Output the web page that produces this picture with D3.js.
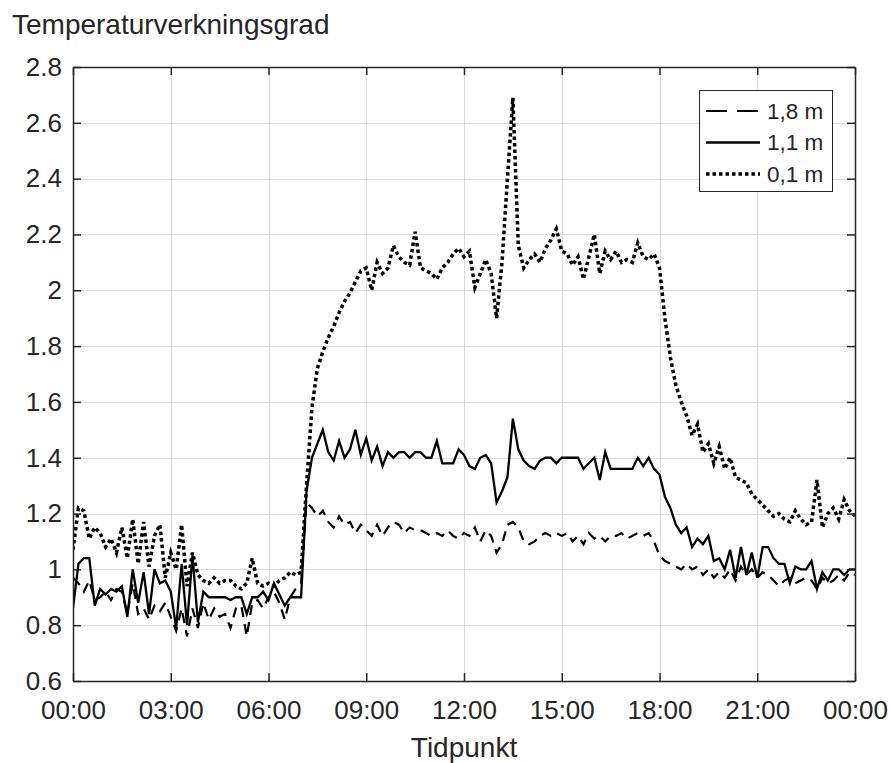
<!DOCTYPE html>
<html>
<head>
<meta charset="utf-8">
<script src="https://cdn.jsdelivr.net/npm/d3@7/dist/d3.min.js"></script>
<style>
  html, body { margin: 0; padding: 0; background: #fff; }
  svg { display: block; font-family: "Liberation Sans", Arial, Helvetica, sans-serif; }
</style>
</head>
<body>
<svg id="chart" width="891" height="763"></svg>
<script>
// Samples every 10 minutes from 00:00 to 24:00 (145 per series)
const stepMinutes = 10;

// Height 1,8 m
const h18 = [
  0.97, 0.95, 0.92, 0.96, 0.89, 0.90, 0.92, 0.89, 0.93, 0.92, 0.84, 0.95,
  0.84, 0.86, 0.82, 0.87, 0.85, 0.88, 0.83, 0.78, 0.86, 0.76, 0.86, 0.79,
  0.88, 0.82, 0.86, 0.83, 0.84, 0.79, 0.86, 0.87, 0.76, 0.88, 0.89, 0.86,
  0.90, 0.92, 0.88, 0.82, 0.90, 0.93, 0.95, 1.24, 1.22, 1.19, 1.21, 1.17,
  1.15, 1.19, 1.16, 1.17, 1.13, 1.16, 1.14, 1.12, 1.16, 1.12, 1.15, 1.17,
  1.16, 1.13, 1.15, 1.14, 1.14, 1.13, 1.12, 1.13, 1.12, 1.14, 1.12, 1.11,
  1.13, 1.12, 1.15, 1.10, 1.14, 1.12, 1.06, 1.09, 1.16, 1.17, 1.15, 1.10,
  1.09, 1.10, 1.12, 1.13, 1.12, 1.13, 1.12, 1.13, 1.10, 1.12, 1.09, 1.13,
  1.11, 1.12, 1.10, 1.12, 1.12, 1.13, 1.11, 1.12, 1.13, 1.12, 1.13, 1.10,
  1.05, 1.03, 1.02, 1.01, 1.00, 1.02, 1.00, 1.01, 0.98, 1.00, 0.97, 0.99,
  0.97, 1.00, 0.96, 1.01, 0.98, 1.00, 0.97, 0.99, 0.98, 0.96, 0.94, 0.96,
  0.97, 0.95, 0.96, 0.97, 0.96, 0.93, 0.97, 0.95, 0.96, 0.98, 0.96, 0.99,
  0.98
];

// Height 1,1 m
const h11 = [
  0.86, 1.02, 1.04, 1.04, 0.87, 0.93, 0.91, 0.93, 0.92, 0.94, 0.83, 1.00,
  0.88, 0.99, 0.84, 1.00, 0.95, 0.96, 0.92, 0.79, 1.02, 0.80, 1.05, 0.81,
  0.92, 0.90, 0.90, 0.90, 0.90, 0.89, 0.90, 0.90, 0.84, 0.90, 0.90, 0.92,
  0.89, 0.95, 0.91, 0.87, 0.90, 0.90, 0.90, 1.28, 1.40, 1.45, 1.50, 1.42,
  1.39, 1.46, 1.40, 1.43, 1.50, 1.41, 1.47, 1.39, 1.44, 1.37, 1.42, 1.40,
  1.42, 1.42, 1.40, 1.42, 1.42, 1.40, 1.40, 1.46, 1.38, 1.38, 1.38, 1.43,
  1.41, 1.37, 1.36, 1.40, 1.41, 1.38, 1.24, 1.28, 1.33, 1.54, 1.43, 1.39,
  1.37, 1.36, 1.39, 1.40, 1.40, 1.38, 1.40, 1.40, 1.40, 1.40, 1.36, 1.38,
  1.40, 1.32, 1.42, 1.36, 1.36, 1.36, 1.36, 1.36, 1.40, 1.37, 1.40, 1.36,
  1.34, 1.26, 1.22, 1.16, 1.13, 1.15, 1.08, 1.11, 1.09, 1.12, 1.03, 1.04,
  1.00, 1.07, 0.97, 1.08, 0.98, 1.06, 0.97, 1.08, 1.08, 1.04, 1.02, 1.02,
  0.95, 1.01, 1.00, 1.00, 1.03, 0.93, 0.99, 0.96, 1.00, 1.00, 0.98, 1.00,
  1.00
];

// Height 0,1 m
const h01 = [
  1.07, 1.22, 1.21, 1.11, 1.15, 1.13, 1.08, 1.11, 1.06, 1.15, 1.04, 1.18,
  1.02, 1.17, 1.01, 1.12, 1.16, 0.97, 1.06, 1.00, 1.16, 0.94, 1.06, 0.98,
  0.96, 0.95, 0.97, 0.95, 0.96, 0.96, 0.94, 0.93, 0.95, 1.04, 0.95, 0.94,
  0.95, 0.94, 0.96, 0.97, 0.99, 0.98, 0.99, 1.30, 1.58, 1.72, 1.78, 1.83,
  1.87, 1.92, 1.96, 1.99, 2.03, 2.07, 2.08, 2.00, 2.10, 2.06, 2.08, 2.16,
  2.12, 2.10, 2.09, 2.21, 2.08, 2.07, 2.06, 2.04, 2.08, 2.10, 2.13, 2.15,
  2.12, 2.14, 2.01, 2.06, 2.11, 2.06, 1.90, 2.10, 2.40, 2.69, 2.16, 2.08,
  2.11, 2.13, 2.10, 2.15, 2.18, 2.22, 2.14, 2.13, 2.09, 2.12, 2.04, 2.12,
  2.20, 2.06, 2.14, 2.11, 2.14, 2.10, 2.11, 2.10, 2.17, 2.12, 2.11, 2.13,
  2.08, 1.90, 1.76, 1.66, 1.60, 1.55, 1.48, 1.52, 1.42, 1.45, 1.38, 1.44,
  1.36, 1.40, 1.33, 1.32, 1.31, 1.27, 1.25, 1.23, 1.21, 1.19, 1.20, 1.18,
  1.17, 1.21, 1.18, 1.16, 1.17, 1.32, 1.15, 1.20, 1.22, 1.18, 1.25, 1.21,
  1.19
];

const seriesNames = ["1,8 m", "1,1 m", "0,1 m"];
const xTickHours = [0, 3, 6, 9, 12, 15, 18, 21, 24];
const xTickLabels = ["00:00", "03:00", "06:00", "09:00", "12:00", "15:00", "18:00", "21:00", "00:00"];
const yTicks = [0.6, 0.8, 1, 1.2, 1.4, 1.6, 1.8, 2, 2.2, 2.4, 2.6, 2.8];
const yLabel = "Temperaturverkningsgrad";
const xLabel = "Tidpunkt";

const ink = "#262626";
const plot = { left: 73, top: 67, right: 855, bottom: 681 };

const svg = d3.select("#chart");

const x = d3.scaleLinear().domain([0, 24]).range([plot.left, plot.right]);
const y = d3.scaleLinear().domain([0.6, 2.8]).range([plot.bottom, plot.top]);

// grid
const grid = svg.append("g").attr("stroke", "#dcdcdc").attr("stroke-width", 1);
grid.selectAll("line.gx").data(xTickHours.slice(1, -1)).join("line")
  .attr("x1", d => Math.round(x(d)) + 0.5).attr("x2", d => Math.round(x(d)) + 0.5)
  .attr("y1", plot.top).attr("y2", plot.bottom);
grid.selectAll("line.gy").data(yTicks.slice(1, -1)).join("line")
  .attr("y1", d => Math.round(y(d)) + 0.5).attr("y2", d => Math.round(y(d)) + 0.5)
  .attr("x1", plot.left).attr("x2", plot.right);

// data lines
svg.append("clipPath").attr("id", "plotclip").append("rect")
  .attr("x", plot.left).attr("y", plot.top)
  .attr("width", plot.right - plot.left).attr("height", plot.bottom - plot.top);

const line = d3.line()
  .x((d, i) => x(i * stepMinutes / 60))
  .y(d => y(d));

const styles = [
  { data: h18, width: 2.2, dash: "10,7" },
  { data: h11, width: 2.3, dash: null },
  { data: h01, width: 3.5, dash: "3.5,3" }
];

const lines = svg.append("g").attr("clip-path", "url(#plotclip)");
styles.forEach(s => {
  lines.append("path")
    .attr("d", line(s.data))
    .attr("fill", "none")
    .attr("stroke", "#000")
    .attr("stroke-width", s.width)
    .attr("stroke-linejoin", "miter")
    .attr("stroke-dasharray", s.dash);
});

// axes (ticks inward, box on)
const tickLen = 8;
const fontTick = 26;
const fontLabel = 28;

const xAxisB = d3.axisBottom(x).tickValues(xTickHours)
  .tickFormat((d, i) => xTickLabels[i]).tickSizeInner(-tickLen).tickSizeOuter(0).tickPadding(20);
const gxb = svg.append("g").attr("transform", `translate(0,${plot.bottom})`).call(xAxisB);
gxb.selectAll("text").attr("font-size", fontTick).attr("fill", ink).attr("font-family", "Liberation Sans, Arial, sans-serif");

const xAxisT = d3.axisTop(x).tickValues(xTickHours).tickFormat("").tickSizeInner(-tickLen).tickSizeOuter(0);
svg.append("g").attr("transform", `translate(0,${plot.top})`).call(xAxisT);

const yAxisL = d3.axisLeft(y).tickValues(yTicks).tickFormat(d3.format("~g"))
  .tickSizeInner(-tickLen).tickSizeOuter(0).tickPadding(11);
const gyl = svg.append("g").attr("transform", `translate(${plot.left},0)`).call(yAxisL);
gyl.selectAll("text").attr("font-size", fontTick).attr("fill", ink).attr("font-family", "Liberation Sans, Arial, sans-serif");

const yAxisR = d3.axisRight(y).tickValues(yTicks).tickFormat("").tickSizeInner(-tickLen).tickSizeOuter(0);
svg.append("g").attr("transform", `translate(${plot.right},0)`).call(yAxisR);

svg.selectAll(".domain").attr("stroke", ink).attr("stroke-width", 1.5);
svg.selectAll(".tick line").attr("stroke", ink).attr("stroke-width", 1.5);

// labels
svg.append("text").attr("x", 12).attr("y", 34)
  .attr("font-size", fontLabel).attr("fill", ink).text(yLabel);
svg.append("text").attr("x", (plot.left + plot.right) / 2).attr("y", 757)
  .attr("text-anchor", "middle").attr("font-size", fontLabel).attr("fill", ink).text(xLabel);

// legend
const lg = svg.append("g");
lg.append("rect").attr("x", 699.5).attr("y", 90.5).attr("width", 133).attr("height", 101)
  .attr("fill", "#fff").attr("stroke", ink).attr("stroke-width", 1);
const legendStyles = [
  { width: 2.2, dash: "21,10" },
  { width: 2.3, dash: null },
  { width: 3.5, dash: "3.5,3" }
];
seriesNames.forEach((name, i) => {
  const cy = 111 + i * 31.5;
  lg.append("line").attr("x1", 706).attr("x2", 760).attr("y1", cy).attr("y2", cy)
    .attr("stroke", "#000").attr("stroke-width", legendStyles[i].width)
    .attr("stroke-dasharray", legendStyles[i].dash);
  lg.append("text").attr("x", 767).attr("y", cy).attr("dy", "0.35em")
    .attr("font-size", 22.5).attr("fill", ink).text(name);
});
</script>
</body>
</html>
